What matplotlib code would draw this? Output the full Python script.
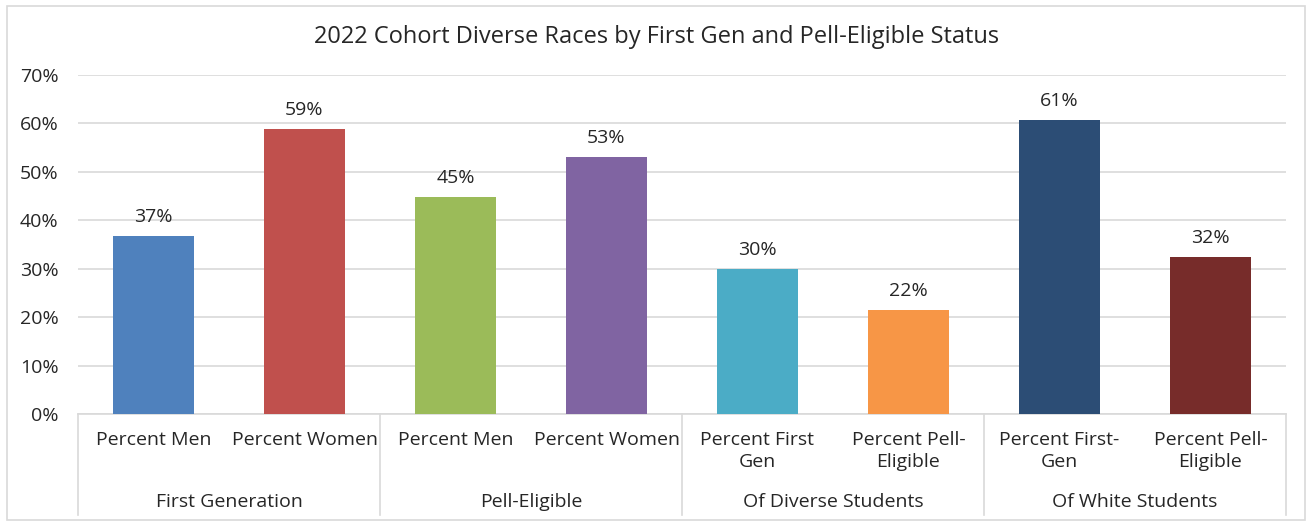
import matplotlib.pyplot as plt
import numpy as np
from matplotlib.patches import Rectangle
import matplotlib.transforms as mtransforms

plt.rcParams['font.family'] = ['Open Sans', 'DejaVu Sans']

# data
groups = ['First Generation', 'Pell-Eligible', 'Of Diverse Students', 'Of White Students']
categories = ['Percent Men', 'Percent Women', 'Percent Men', 'Percent Women',
              'Percent First\nGen', 'Percent Pell-\nEligible', 'Percent First-\nGen', 'Percent Pell-\nEligible']
values = [36.8, 58.9, 44.8, 53.1, 30.0, 21.5, 60.7, 32.4]
colors = ['#4F81BD', '#C0504D', '#9BBB59', '#8064A2', '#4BACC6', '#F79646', '#2C4D75', '#772C2A']

fig = plt.figure(figsize=(13.09, 5.23), dpi=100)
ax = fig.add_axes([78/1309, 109/523, 1208/1309, 339/523])

# outer chart border
fig.patches.append(Rectangle((7/1309, 3/523), 1298/1309, 514/523, transform=fig.transFigure,
                             fill=False, edgecolor='#D9D9D9', lw=1.2))

x = np.arange(len(values))
ax.bar(x, values, width=0.54, color=colors, zorder=3)
for xi, v in zip(x, values):
    ax.annotate('%d%%' % round(v), (xi, v), xytext=(0, 7), textcoords='offset points',
                ha='center', va='bottom', fontsize=14, color='#262626')

ax.set_xlim(-0.5, len(values) - 0.5)
ax.set_ylim(0, 70)
ax.set_yticks(range(0, 71, 10))
ax.set_yticklabels(['%d%%' % t for t in range(0, 71, 10)], fontsize=14, color='#262626')
ax.tick_params(axis='y', length=0, pad=14)
ax.grid(axis='y', color='#D9D9D9', lw=1.2, zorder=0)
for s in ax.spines.values():
    s.set_visible(False)
ax.set_xticks([])

# multi-level category axis
trans = mtransforms.blended_transform_factory(ax.transData, ax.transAxes)
ax.plot([-0.5, len(values) - 0.5], [0, 0], transform=trans, color='#D9D9D9', lw=1.2, clip_on=False)
for b in [-0.5, 1.5, 3.5, 5.5, 7.5]:
    ax.plot([b, b], [0, -101/339], transform=trans, color='#D9D9D9', lw=1.2, clip_on=False)
for xi, c in zip(x, categories):
    ax.text(xi, -17/339, c, transform=trans, ha='center', va='top', fontsize=14,
            color='#262626', linespacing=1.3)
for gi, g in enumerate(groups):
    ax.text(2 * gi + 0.5, -88/339, g, transform=trans, ha='center', va='center',
            fontsize=14, color='#262626')

fig.text(657/1309, 1 - 37/523, '2022 Cohort Diverse Races by First Gen and Pell-Eligible Status',
         ha='center', va='center', fontsize=17, color='#262626')

plt.savefig('out.png', dpi=100)
